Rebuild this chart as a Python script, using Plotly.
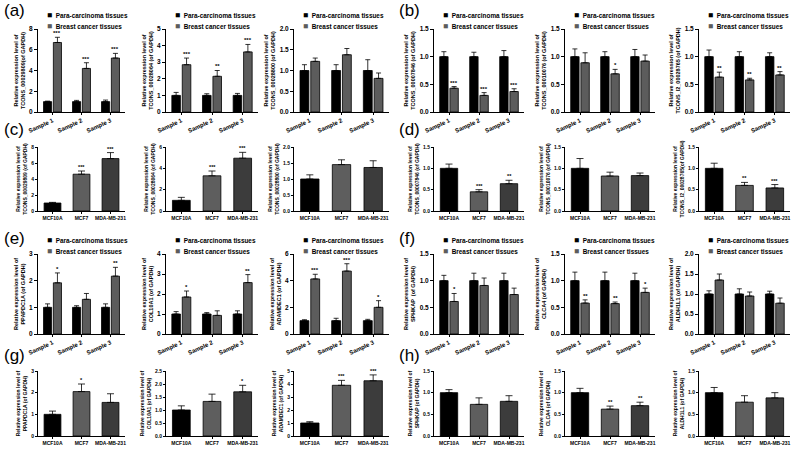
import plotly.graph_objects as go

W, H = 800, 449

samples = ["Sample 1", "Sample 2", "Sample 3"]
cell_lines = ["MCF10A", "MCF7", "MDA-MB-231"]
group_names = ["Para-carcinoma tissues", "Breast cancer tissues"]

# para-carcinoma tissues are the reference (=1) in every tissue panel
para_mean = [1.0, 1.0, 1.0]

# (a) / (b) lncRNAs in tissues
t29809_para_err = [0.05, 0.12, 0.15]
t29809_cancer = [6.7, 4.2, 5.2]
t29809_cancer_err = [0.5, 0.55, 0.45]
t29809_stars = ["***", "***", "***"]

t28064_para_err = [0.18, 0.10, 0.12]
t28064_cancer = [2.85, 2.15, 3.62]
t28064_cancer_err = [0.40, 0.35, 0.45]
t28064_stars = ["***", "**", "***"]

t28800_para_err = [0.14, 0.14, 0.26]
t28800_cancer = [1.22, 1.38, 0.81]
t28800_cancer_err = [0.08, 0.15, 0.13]
t28800_stars = ["", "", ""]

t07846_para_err = [0.09, 0.08, 0.11]
t07846_cancer = [0.43, 0.30, 0.37]
t07846_cancer_err = [0.03, 0.05, 0.05]
t07846_stars = ["***", "***", "***"]

t10076_para_err = [0.14, 0.09, 0.13]
t10076_cancer = [0.89, 0.69, 0.92]
t10076_cancer_err = [0.18, 0.08, 0.11]
t10076_stars = ["", "*", ""]

t28765_para_err = [0.12, 0.09, 0.07]
t28765_cancer = [0.63, 0.58, 0.67]
t28765_cancer_err = [0.09, 0.03, 0.06]
t28765_stars = ["**", "**", "**"]

# (e) / (f) mRNAs in tissues
ppapdc1a_para_err = [0.13, 0.06, 0.13]
ppapdc1a_cancer = [1.92, 1.30, 2.17]
ppapdc1a_cancer_err = [0.37, 0.22, 0.33]
ppapdc1a_stars = ["*", "", "**"]

col10a1_para_err = [0.12, 0.07, 0.16]
col10a1_cancer = [1.85, 0.93, 2.57]
col10a1_cancer_err = [0.30, 0.23, 0.40]
col10a1_stars = ["*", "", "**"]

adamdec1_para_err = [0.07, 0.18, 0.10]
adamdec1_cancer = [4.13, 4.72, 2.00]
adamdec1_cancer_err = [0.35, 0.55, 0.50]
adamdec1_stars = ["***", "***", "*"]

sphkap_para_err = [0.10, 0.14, 0.14]
sphkap_cancer = [0.61, 0.91, 0.74]
sphkap_cancer_err = [0.15, 0.14, 0.12]
sphkap_stars = ["*", "", ""]

clca4_para_err = [0.16, 0.16, 0.14]
clca4_cancer = [0.58, 0.57, 0.78]
clca4_cancer_err = [0.06, 0.03, 0.08]
clca4_stars = ["**", "**", "*"]

aldh1l1_para_err = [0.08, 0.13, 0.07]
aldh1l1_cancer = [1.35, 0.95, 0.77]
aldh1l1_cancer_err = [0.15, 0.10, 0.13]
aldh1l1_stars = ["", "", ""]

# (c) / (d) lncRNAs in cell lines
c29809 = [1.0, 4.6, 6.55]
c29809_err = [0.08, 0.40, 0.75]
c29809_stars = ["", "***", "***"]

c28064 = [1.0, 3.3, 4.95]
c28064_err = [0.28, 0.45, 0.55]
c28064_stars = ["", "***", "***"]

c28800 = [1.0, 1.45, 1.36]
c28800_err = [0.13, 0.15, 0.21]
c28800_stars = ["", "", ""]

c07846 = [1.0, 0.45, 0.64]
c07846_err = [0.10, 0.05, 0.08]
c07846_stars = ["", "***", "**"]

c10076 = [1.0, 0.82, 0.83]
c10076_err = [0.23, 0.09, 0.06]
c10076_stars = ["", "", ""]

c28765 = [1.0, 0.60, 0.54]
c28765_err = [0.12, 0.07, 0.08]
c28765_stars = ["", "**", "***"]

# (g) / (h) mRNAs in cell lines
c_ppapdc1a = [1.0, 2.05, 1.55]
c_ppapdc1a_err = [0.15, 0.35, 0.40]
c_ppapdc1a_stars = ["", "*", ""]

c_col10a1 = [1.0, 1.33, 1.70]
c_col10a1_err = [0.16, 0.28, 0.25]
c_col10a1_stars = ["", "", "*"]

c_adamdec1 = [1.0, 3.90, 4.25]
c_adamdec1_err = [0.10, 0.38, 0.45]
c_adamdec1_stars = ["", "***", "***"]

c_sphkap = [1.0, 0.73, 0.80]
c_sphkap_err = [0.07, 0.15, 0.13]
c_sphkap_stars = ["", "", ""]

c_clca4 = [1.0, 0.62, 0.70]
c_clca4_err = [0.10, 0.07, 0.08]
c_clca4_stars = ["", "**", "**"]

c_aldh1l1 = [1.0, 0.78, 0.88]
c_aldh1l1_err = [0.12, 0.15, 0.12]
c_aldh1l1_stars = ["", "", ""]

PARA_COLOR = "#000000"
CANCER_COLOR = "#5c5c5c"
CELL_COLORS = ["#000000", "#5e5e5e", "#3c3c3c"]
FONT = "Liberation Sans, Arial, sans-serif"

# pixel boxes of the plot areas (left, right) per column, (top, bottom) per row
col_px = [(38, 125), (166, 258), (294, 389), (434, 524), (565, 655), (699, 790)]
row_px = [(29, 112), (147, 211), (254, 334), (371, 436)]

tissue_panels = [
    ((0, 0), "TCONS_00029809(of GAPDH)", t29809_para_err, t29809_cancer, t29809_cancer_err, t29809_stars, 8, 2, ""),
    ((0, 1), "TCONS_00028064 (of GAPDH)", t28064_para_err, t28064_cancer, t28064_cancer_err, t28064_stars, 5, 1, ""),
    ((0, 2), "TCONS_00028800 (of GAPDH)", t28800_para_err, t28800_cancer, t28800_cancer_err, t28800_stars, 2, 0.5, ".1f"),
    ((0, 3), "TCONS_00007846 (of GAPDH)", t07846_para_err, t07846_cancer, t07846_cancer_err, t07846_stars, 1.5, 0.5, ".1f"),
    ((0, 4), "TCONS_00010076 (of GAPDH)", t10076_para_err, t10076_cancer, t10076_cancer_err, t10076_stars, 1.5, 0.5, ".1f"),
    ((0, 5), "TCONS_l2_00028765 (of GAPDH)", t28765_para_err, t28765_cancer, t28765_cancer_err, t28765_stars, 1.5, 0.5, ".1f"),
    ((2, 0), "PPAPDC1A (of GAPDH)", ppapdc1a_para_err, ppapdc1a_cancer, ppapdc1a_cancer_err, ppapdc1a_stars, 3, 1, ""),
    ((2, 1), "COL10A1 (of GAPDH)", col10a1_para_err, col10a1_cancer, col10a1_cancer_err, col10a1_stars, 4, 1, ""),
    ((2, 2), "ADAMDEC1 (of GAPDH)", adamdec1_para_err, adamdec1_cancer, adamdec1_cancer_err, adamdec1_stars, 6, 2, ""),
    ((2, 3), "SPHKAP  (of GAPDH)", sphkap_para_err, sphkap_cancer, sphkap_cancer_err, sphkap_stars, 1.5, 0.5, ".1f"),
    ((2, 4), "CLCA4 (of GAPDH)", clca4_para_err, clca4_cancer, clca4_cancer_err, clca4_stars, 1.5, 0.5, ".1f"),
    ((2, 5), "ALDH1L1 (of GAPDH)", aldh1l1_para_err, aldh1l1_cancer, aldh1l1_cancer_err, aldh1l1_stars, 2, 0.5, ".1f"),
]

cell_panels = [
    ((1, 0), "TCONS_00029809 (of GAPDH)", c29809, c29809_err, c29809_stars, 8, 2, ""),
    ((1, 1), "TCONS_00028064 (of GAPDH)", c28064, c28064_err, c28064_stars, 6, 2, ""),
    ((1, 2), "TCONS_00028800 (of GAPDH)", c28800, c28800_err, c28800_stars, 2, 0.5, ".1f"),
    ((1, 3), "TCONS_00007846 (of GAPDH)", c07846, c07846_err, c07846_stars, 1.5, 0.5, ".1f"),
    ((1, 4), "TCONS_00010076 (of GAPDH)", c10076, c10076_err, c10076_stars, 1.5, 0.5, ".1f"),
    ((1, 5), "TCONS_l2_00028765(of GAPDH)", c28765, c28765_err, c28765_stars, 1.5, 0.5, ".1f"),
    ((3, 0), "PPAPDC1A (of GAPDH)", c_ppapdc1a, c_ppapdc1a_err, c_ppapdc1a_stars, 3, 1, ""),
    ((3, 1), "COL10A1 (of GAPDH)", c_col10a1, c_col10a1_err, c_col10a1_stars, 2.5, 0.5, ".1f"),
    ((3, 2), "ADAMDEC1 (of GAPDH)", c_adamdec1, c_adamdec1_err, c_adamdec1_stars, 5, 1, ""),
    ((3, 3), "SPHKAP (of GAPDH)", c_sphkap, c_sphkap_err, c_sphkap_stars, 1.5, 0.5, ".1f"),
    ((3, 4), "CLCA4 (of GAPDH)", c_clca4, c_clca4_err, c_clca4_stars, 1.5, 0.5, ".1f"),
    ((3, 5), "ALDH1L1 (of GAPDH)", c_aldh1l1, c_aldh1l1_err, c_aldh1l1_stars, 1.5, 0.5, ".1f"),
]

fig = go.Figure()
layout_axes = {}
annotations = []


def add_axes(n, slot, ytitle, ymax, dtick, fmt, ticks, small):
    r, c = slot
    x0, x1 = col_px[c]
    y0, y1 = row_px[r]
    layout_axes[f"xaxis{n}"] = dict(
        domain=[x0 / W, x1 / W], anchor=f"y{n}", range=[-0.5, 2.5],
        tickvals=[0, 1, 2], ticktext=ticks,
        tickangle=0 if small else -25,
        tickfont=dict(size=5 if small else 6, family=FONT, weight="bold", color="black"),
        showline=True, linecolor="black", linewidth=1,
        ticks="outside", ticklen=2, tickcolor="black",
        showgrid=False, zeroline=False, automargin=False,
    )
    layout_axes[f"yaxis{n}"] = dict(
        domain=[1 - y1 / H, 1 - y0 / H], anchor=f"x{n}", range=[0, ymax],
        dtick=dtick, tickformat=fmt,
        tickfont=dict(size=5 if small else 6.5, family=FONT, weight="bold", color="black"),
        title=dict(text="Relative expression level of<br>" + ytitle,
                   font=dict(size=5 if small else 5.5, family=FONT, weight="bold", color="black"),
                   standoff=3),
        showline=True, linecolor="black", linewidth=1,
        ticks="outside", ticklen=3 if not small else 2, tickcolor="black",
        showgrid=False, zeroline=False, automargin=False,
    )


def add_stars(n, xs, tops, stars, size):
    for x, top, s in zip(xs, tops, stars):
        if s:
            annotations.append(dict(
                x=x, y=top, xref=f"x{n}", yref=f"y{n}", text=s, showarrow=False,
                yanchor="bottom", yshift=-1,
                font=dict(size=size, family=FONT, weight="bold", color="black"),
            ))


n = 0
for slot, ytitle, p_err, cancer, c_err, stars, ymax, dtick, fmt in tissue_panels:
    n += 1
    add_axes(n, slot, ytitle, ymax, dtick, fmt, samples, small=False)
    xp = [k - 0.17 for k in range(3)]
    xc = [k + 0.17 for k in range(3)]
    for xs, vals, errs, color in ((xp, para_mean, p_err, PARA_COLOR), (xc, cancer, c_err, CANCER_COLOR)):
        fig.add_trace(go.Bar(
            x=xs, y=vals, width=0.28, xaxis=f"x{n}", yaxis=f"y{n}",
            marker=dict(color=color, line=dict(color="black", width=0.8)),
            error_y=dict(type="data", array=errs, arrayminus=[0] * 3, symmetric=False,
                         color="black", thickness=0.8, width=2.5),
            showlegend=False,
        ))
    add_stars(n, xc, [v + e for v, e in zip(cancer, c_err)], stars, 6)

    # legend block above each tissue panel
    r, c = slot
    lx = col_px[c][0] + 7
    ly = row_px[r][0]
    for name, color, dy in ((group_names[0], PARA_COLOR, -14), (group_names[1], CANCER_COLOR, -3)):
        annotations.append(dict(
            x=lx / W, y=1 - (ly + dy) / H, xref="paper", yref="paper",
            xanchor="left", yanchor="middle", showarrow=False,
            text=f'<span style="font-size:8.5px;color:{color}">■</span>  {name}',
            font=dict(size=6.4, family=FONT, weight="bold", color="black"),
        ))

for slot, ytitle, vals, errs, stars, ymax, dtick, fmt in cell_panels:
    n += 1
    add_axes(n, slot, ytitle, ymax, dtick, fmt, cell_lines, small=True)
    xs = list(range(3))
    fig.add_trace(go.Bar(
        x=xs, y=vals, width=0.58, xaxis=f"x{n}", yaxis=f"y{n}",
        marker=dict(color=CELL_COLORS, line=dict(color="black", width=0.8)),
        error_y=dict(type="data", array=errs, arrayminus=[0] * 3, symmetric=False,
                     color="black", thickness=0.8, width=3.5),
        showlegend=False,
    ))
    add_stars(n, xs, [v + e for v, e in zip(vals, errs)], stars, 5.5)

# panel letters
for letter, px, py in (("(a)", 2, 10), ("(b)", 397, 10), ("(c)", 2, 129), ("(d)", 397, 129),
                       ("(e)", 2, 238), ("(f)", 397, 238), ("(g)", 2, 355), ("(h)", 397, 355)):
    annotations.append(dict(
        x=px / W, y=1 - py / H, xref="paper", yref="paper", xanchor="left", yanchor="middle",
        text=letter, showarrow=False, font=dict(size=17, family=FONT, color="black"),
    ))

fig.update_layout(
    width=W, height=H,
    margin=dict(l=0, r=0, t=0, b=0),
    paper_bgcolor="white", plot_bgcolor="white",
    barmode="overlay", showlegend=False,
    annotations=annotations,
    **layout_axes,
)

# the page body has a default 8px margin; drop it so the figure sits at the window origin
fig.write_html("out.html", config={"displayModeBar": False},
               post_script="document.body.style.margin='0px';")
